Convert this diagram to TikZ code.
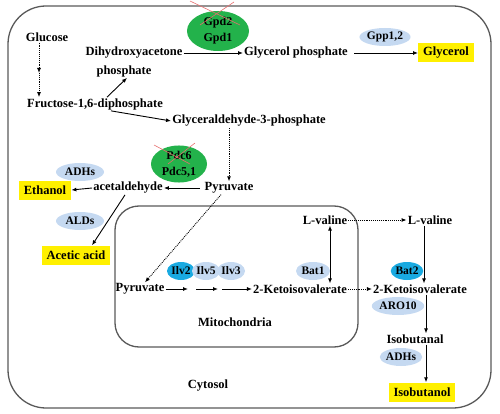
\documentclass[tikz,border=0pt]{standalone}
\usepackage{fontspec}
\setmainfont{Liberation Serif}
\usetikzlibrary{arrows.meta, positioning, shapes.geometric}
\definecolor{enzblue}{RGB}{197,217,241}
\definecolor{enzcyan}{RGB}{25,170,225}
\definecolor{enzgreen}{RGB}{35,178,75}
\definecolor{prodyellow}{RGB}{255,240,0}
\definecolor{crossred}{RGB}{230,110,110}
\tikzset{%
	met/.style={
		font=\fontsize{12.5}{14}\selectfont\bfseries,
		inner sep=1pt
	},
	product/.style={
		met,
		fill=prodyellow,
		inner xsep=5pt,
		minimum height=19pt
	},
	enz/.style={
		ellipse,
		fill=enzblue,
		font=\fontsize{11.5}{12}\selectfont\bfseries,
		inner sep=0pt,
		minimum height=18pt,
		minimum width=40pt
	},
	enzc/.style={
		enz,
		fill=enzcyan
	},
	knock/.style={
		ellipse,
		fill=enzgreen,
		align=center,
		font=\fontsize{12}{16}\selectfont\bfseries,
		inner sep=0pt
	},
	compart/.style={
		draw=black!65,
		line width=1.3pt
	},
	arr/.style={
		-{Latex[length=5pt,width=4pt]},
		line width=0.9pt
	},
	dotarr/.style={
		arr,
		densely dotted
	},
	cross/.style={
		draw=crossred,
		line width=0.6pt
	},
}

\begin{document}
\begin{tikzpicture}[x=1pt,y=-1pt]
			\useasboundingbox (0,0) rectangle (500,414);
			% Draw the cytosol and the mitochondria
			\draw[compart, rounded corners=38pt] (8,6) rectangle (491,408);
			\draw[compart, rounded corners=24pt] (115,206) rectangle (358,347);
			\node[met] (cyto) at (208,386) {Cytosol};
			\node[met] (mito) at (235,322) {Mitochondria};
			
			% Upper part: glycolysis and glycerol
			\node[met] (glc) at (47,37) {Glucose};
			\node[met] (dhap) at (134,53) {Dihydroxyacetone};
			\node[met] (dhap2) at (124,71) {phosphate};
			\node[met] (g3p) at (296,53) {Glycerol phosphate};
			\node[product] (gly) at (446,53) {Glycerol};
			\node[enz, minimum width=50pt] (gpp) at (385,37) {Gpp1,2};
			\node[knock, minimum width=62pt, minimum height=40pt] (gpd) at (218,31) {Gpd2\\Gpd1};
			\draw[cross] (190,1) -- (240,25);
			\draw[cross] (200,25) -- (234,2);
			\node[met] (fbp) at (95,104) {Fructose-1,6-diphosphate};
			\node[met] (gap) at (249,121) {Glyceraldehyde-3-phosphate};
			
			\coordinate (gmid) at (39,73);
			\draw[dotarr] (glc.south -| gmid) -- (gmid);
			\draw[dotarr] (gmid) -- (fbp.north -| gmid);
			\draw[arr] ([xshift=12pt]fbp.north) -- ([xshift=3pt]dhap2.south);
			\draw[arr] ([xshift=16pt]fbp.south) -- (gap.west);
			\draw[arr] (dhap.east) -- (g3p.west);
			\draw[arr, shorten <=5pt] (g3p.east) -- (gly.west);
			
			% Pyruvate and its products
			\node[met] (pyr) at (229,188) {Pyruvate};
			\node[met] (acald) at (128,188) {acetaldehyde};
			\node[product] (etoh) at (45,190) {Ethanol};
			\node[enz, minimum width=48pt] (adh1) at (80,172) {ADHs};
			\node[enz, minimum width=48pt] (ald) at (80,221) {ALDs};
			\node[product] (ace) at (76,255) {Acetic acid};
			\node[knock, minimum width=56pt, minimum height=34pt] (pdc) at (179,164) {Pdc6\\Pdc5,1};
			\draw[cross] (154,145) -- (190,164);
			\draw[cross] (168,164) -- (195,143);
			
			\draw[dotarr] (gap.south -| pyr.north) -- (pyr.north);
			\draw[arr, shorten <=4pt] (pyr.west) -- (acald.east);
			\draw[arr] (acald.west) -- (etoh.east);
			\draw[arr] ([xshift=-3pt]acald.south) -- ([xshift=16pt]ace.north);
			
			% Mitochondria
			\node[met] (mpyr) at (140,289) {Pyruvate};
			\node[enzc, minimum width=28pt] (ilv2) at (181,271) {Ilv2};
			\node[enz, minimum width=28pt] (ilv5) at (206,271) {Ilv5};
			\node[enz, minimum width=28pt] (ilv3) at (231,271) {Ilv3};
			\node[met] (mkiv) at (300,289) {2-Ketoisovalerate};
			\node[enz, minimum width=34pt] (bat1) at (313,271) {Bat1};
			\node[met] (mval) at (325,220) {L-valine};
			
			\draw[dotarr] ([xshift=-8pt]pyr.south) -- ([xshift=5pt]mpyr.north);
			\coordinate (k1) at (188,289);
			\coordinate (k2) at (196,289);
			\coordinate (k3) at (218,289);
			\coordinate (k4) at (222,289);
			\draw[arr] (mpyr.east) -- (k1);
			\draw[arr] (k2) -- (k3);
			\draw[arr] (k4) -- (mkiv.west);
			\draw[arr, {Latex[length=5pt,width=4pt]}-{Latex[length=5pt,width=4pt]}] ([xshift=5pt]mval.south) -- ([xshift=5pt]mval.south |- mkiv.north);
			
			% Cytosol: valine to isobutanol
			\node[met] (cval) at (430,220) {L-valine};
			\node[met] (ckiv) at (420,289) {2-Ketoisovalerate};
			\node[enzc, minimum width=32pt] (bat2) at (407,271) {Bat2};
			\node[enz, minimum width=48pt] (aro) at (398,306) {ARO10};
			\node[met] (iba) at (415,339) {Isobutanal};
			\node[enz, minimum width=42pt] (adh2) at (401,357) {ADHs};
			\node[product] (ibol) at (422,392) {Isobutanol};
			
			\draw[dotarr] (mval.east) -- (cval.west);
			\draw[dotarr] (mkiv.east) -- (ckiv.west);
			\draw[arr] ([xshift=-6pt]cval.south) -- ([xshift=4pt]ckiv.north);
			\draw[arr] ([xshift=6pt]ckiv.south) -- ([xshift=11pt]iba.north);
			\draw[arr] ([xshift=11pt]iba.south) -- ([xshift=4pt]ibol.north);
		\end{tikzpicture}
\end{document}
